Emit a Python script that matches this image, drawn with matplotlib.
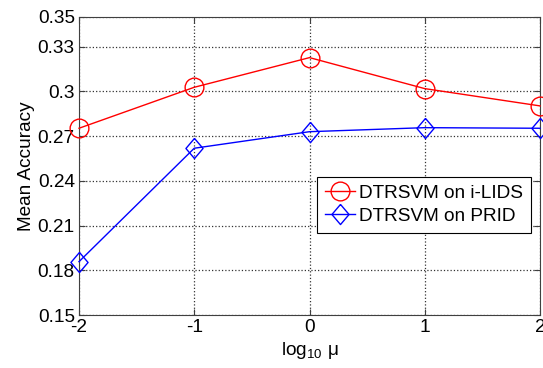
import numpy as np
import matplotlib
matplotlib.use('Agg')
import matplotlib.pyplot as plt

# 데이터
log_mu = [-2, -1, 0, 1, 2]
ilids = [0.2753, 0.3028, 0.3227, 0.3019, 0.2903]
prid = [0.1858, 0.2619, 0.2730, 0.2757, 0.2753]
yticks = [0.15, 0.18, 0.21, 0.24, 0.27, 0.30, 0.33, 0.35]
ytick_labels = ['0.15', '0.18', '0.21', '0.24', '0.27', '0.3', '0.33', '0.35']
xticks = [-2, -1, 0, 1, 2]

plt.rcParams['font.family'] = ['Liberation Sans', 'DejaVu Sans']
plt.rcParams['mathtext.fontset'] = 'custom'
plt.rcParams['mathtext.rm'] = 'Liberation Sans'
plt.rcParams['mathtext.default'] = 'regular'

fs = 13.7
fig = plt.figure(figsize=(5.43, 3.68), dpi=100)
ax = fig.add_axes([0.1455, 0.144, 0.849, 0.81])

# 다이아몬드 마커 (MATLAB 스타일)
diamond = [(0, 1), (0.85, 0), (0, -1), (-0.85, 0), (0, 1)]

ax.plot(log_mu, ilids, color='red', lw=1.0, marker='o', markersize=13.5,
        markerfacecolor='none', markeredgecolor='red', markeredgewidth=1.0,
        label='DTRSVM on i-LIDS', clip_on=False, zorder=3)
ax.plot(log_mu, prid, color='blue', lw=1.0, marker=diamond, markersize=14.5,
        markerfacecolor='none', markeredgecolor='blue', markeredgewidth=1.0,
        label='DTRSVM on PRID', clip_on=False, zorder=3)

ax.set_xlim(-2, 2)
ax.set_ylim(0.15, 0.35)
ax.set_xticks(xticks)
ax.set_xticklabels([str(t) for t in xticks])
ax.set_yticks(yticks)
ax.set_yticklabels(ytick_labels)

ax.grid(True, linestyle=':', color='#333333', lw=0.9)
ax.set_axisbelow(True)
ax.tick_params(direction='in', length=4, width=0.8, top=True, right=True,
               labelsize=fs, color='#404040', pad=3)
for s in ax.spines.values():
    s.set_color('#404040')
    s.set_linewidth(0.8)

ax.set_xlabel(r'log$_{10}$ μ', fontsize=fs, labelpad=3)
ax.set_ylabel('Mean Accuracy', fontsize=fs, labelpad=2)

leg = ax.legend(loc='upper right', bbox_to_anchor=(0.980, 0.463), fontsize=fs,
                fancybox=False, edgecolor='black', framealpha=1,
                handlelength=1.6, handletextpad=0.2, borderpad=0.4,
                labelspacing=0.3, borderaxespad=0)
leg.get_frame().set_linewidth(0.8)

plt.savefig('out.png', dpi=100)
